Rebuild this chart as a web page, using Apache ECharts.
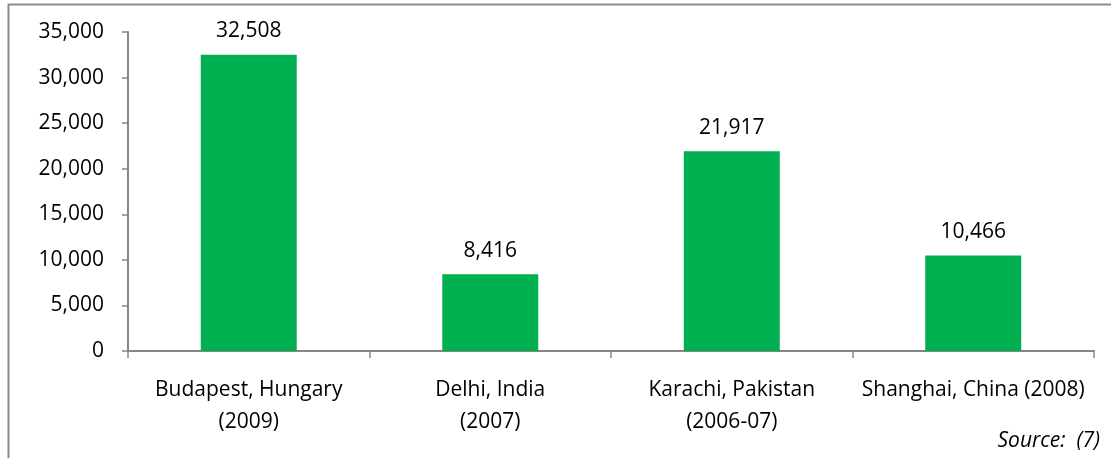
<!DOCTYPE html>
<html>
<head>
<meta charset="utf-8">
<script src="https://cdn.jsdelivr.net/npm/echarts@6/dist/echarts.min.js"></script>
<style>
  html, body { margin: 0; padding: 0; background: #fff; }
  #chart { width: 1111px; height: 458px; }
</style>
</head>
<body>
<div id="chart"></div>
<script>
// City labels (two-line where the year wraps)
const cities = [
  'Budapest, Hungary\n(2009)',
  'Delhi, India\n(2007)',
  'Karachi, Pakistan\n(2006-07)',
  'Shanghai, China (2008)'
];
const values = [32508, 8416, 21917, 10466];
const yTicks = { min: 0, max: 35000, interval: 5000 };
const sourceNote = 'Source:  (7)';

const FONT = 'Open Sans';
const SIZE = 21;
const AXIS = '#868686';
const fmt = v => v.toLocaleString('en-US');

const chart = echarts.init(document.getElementById('chart'), null, { renderer: 'canvas' });
chart.setOption({
  animation: false,
  textStyle: { fontFamily: FONT },
  grid: { left: 128, right: 17, top: 32, bottom: 107, containLabel: false },
  graphic: [
    {
      type: 'rect',
      shape: { x: 8.5, y: 4.5, width: 1200, height: 600 },
      style: { fill: 'none', stroke: '#8c8c8c', lineWidth: 2 }
    },
    {
      type: 'text',
      right: 11, top: 431,
      style: { text: sourceNote, font: 'italic 21px "' + FONT + '"', fill: '#000' }
    }
  ],
  xAxis: {
    type: 'category',
    data: cities,
    axisLine: { lineStyle: { color: AXIS, width: 2 } },
    axisTick: { show: true, length: 7, alignWithLabel: false, lineStyle: { color: AXIS, width: 1.5 } },
    axisLabel: { color: '#000', fontSize: SIZE, fontFamily: FONT, lineHeight: 32, margin: 23, interval: 0 }
  },
  yAxis: {
    type: 'value',
    min: yTicks.min, max: yTicks.max, interval: yTicks.interval,
    axisLine: { show: true, lineStyle: { color: AXIS, width: 2 } },
    axisTick: { show: true, length: 6, lineStyle: { color: AXIS, width: 1.5 } },
    splitLine: { show: false },
    axisLabel: { color: '#000', fontSize: SIZE, fontFamily: FONT, margin: 24, formatter: fmt }
  },
  series: [{
    type: 'bar',
    data: values,
    barWidth: 96,
    itemStyle: { color: '#00B050' },
    label: {
      show: true, position: 'top', distance: 13,
      color: '#000', fontSize: SIZE, fontFamily: FONT,
      formatter: p => fmt(p.value)
    }
  }]
});
</script>
</body>
</html>
